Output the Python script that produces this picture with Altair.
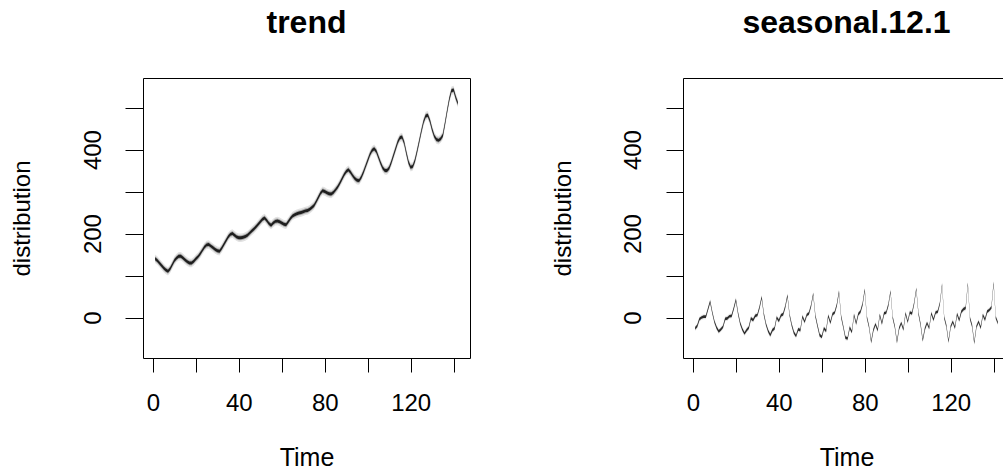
import altair as alt
import pandas as pd

# ---- data ----
time_index = list(range(1, 143))

trend = [
    140, 136, 130, 124, 118, 113, 110, 116, 126, 136, 142, 146,
    146, 142, 137, 133, 130, 130, 134, 140, 145, 152, 160, 168,
    173, 174, 170, 166, 162, 159, 158, 165, 174, 183, 192, 198,
    200, 196, 192, 190, 190, 191, 193, 196, 201, 206, 211, 216,
    222, 228, 234, 237, 231, 224, 220, 225, 229, 230, 228, 225,
    222, 221, 228, 236, 242, 245, 247, 249, 250, 252, 254, 255,
    258, 262, 267, 276, 286, 296, 302, 300, 297, 295, 294, 298,
    304, 311, 320, 330, 340, 348, 352, 346, 338, 331, 327, 326,
    334, 346, 360, 374, 388, 398, 402, 396, 382, 368, 356, 350,
    350, 356, 370, 386, 402, 418, 428, 430, 416, 392, 370, 358,
    360, 374, 396, 420, 444, 466, 480, 482, 468, 448, 432, 424,
    422, 426, 434, 462, 492, 520, 540, 542, 524, 510,
]

seasonal = [
    -26, -20, -4, 0, 2, 2, 20, 38, 12, -10, -24, -33,
    -28, -22, -3, -2, 3, 4, 22, 42, 10, -14, -28, -38,
    -30, -24, -2, -6, 4, 6, 24, 48, 8, -16, -32, -42,
    -30, -26, 0, -8, 5, 8, 26, 52, 6, -18, -36, -44,
    -28, -30, 2, -10, 6, 10, 28, 56, 4, -20, -42, -46,
    -26, -32, 4, -12, 8, 12, 30, 61, 2, -22, -48, -50,
    -24, -34, 6, -14, 8, 14, 32, 66, 0, -22, -58, -30,
    -16, -30, 6, -14, 10, 12, 30, 62, 0, -22, -58, -26,
    -13, -28, 10, -10, 12, 10, 34, 68, 10, -17, -54, -27,
    -13, -25, 10, -5, 12, 14, 34, 78, 0, -20, -57, -22,
    -10, -24, 8, -6, 14, 20, 23, 80, -2, -20, -60, -22,
    -10, -24, 6, -5, 14, 18, 24, 82, 0, -13,
]

x_ticks = [0, 20, 40, 60, 80, 100, 120, 140]
y_ticks = [0, 100, 200, 300, 400, 500]

df = pd.DataFrame({"t": time_index, "trend": trend, "seasonal": seasonal})

FONT = "Liberation Sans"
X_DOMAIN = [-4.64, 147.64]
Y_DOMAIN = [-96.4, 570.5]
W, H = 327, 280


def panel(field, title, bands, ytick, ylabpad, ytitlex):
    x_enc = alt.X(
        "t:Q",
        scale=alt.Scale(domain=X_DOMAIN, nice=False, zero=False),
        axis=alt.Axis(
            values=x_ticks,
            labelExpr="datum.value % 40 == 0 ? datum.label : ''",
            title="Time",
            domain=False, grid=False,
            tickSize=14, tickColor="black", tickWidth=1,
            labelFont=FONT, labelFontSize=24, labelColor="black",
            labelBaseline="alphabetic", labelAlign="center", labelPadding=38,
            labelFlush=False, labelOverlap=False,
            titleFont=FONT, titleFontSize=25, titleFontWeight="normal",
            titleColor="black", titleBaseline="alphabetic", titleY=107,
        ),
    )
    y_enc = alt.Y(
        "lo:Q",
        scale=alt.Scale(domain=Y_DOMAIN, nice=False, zero=False),
        axis=alt.Axis(
            values=y_ticks,
            labelExpr="datum.value % 200 == 0 ? datum.label : ''",
            title="distribution",
            domain=False, grid=False,
            tickSize=ytick, tickColor="black", tickWidth=1,
            labelFont=FONT, labelFontSize=24, labelColor="black",
            labelAngle=270, labelAlign="center", labelBaseline="alphabetic",
            labelPadding=ylabpad, labelFlush=False, labelOverlap=False,
            titleFont=FONT, titleFontSize=24, titleFontWeight="normal",
            titleColor="black", titleAngle=270, titleAlign="center",
            titleBaseline="alphabetic", titleX=ytitlex, titleY=H / 2,
        ),
    )
    layers = []
    for half, color in bands:
        layers.append(
            alt.Chart(df)
            .transform_calculate(
                lo=f"datum.{field} - {half}", hi=f"datum.{field} + {half}"
            )
            .mark_area(color=color, orient="vertical", clip=True)
            .encode(x=x_enc, y=y_enc, y2="hi:Q")
        )
    return alt.layer(*layers).properties(
        width=W,
        height=H,
        title=alt.TitleParams(
            text=title, font=FONT, fontSize=32, fontWeight="bold",
            color="black", anchor="middle", frame="group",
            baseline="alphabetic", offset=13,
        ),
    )


left = panel(
    "trend", "trend",
    [(10, "#e2e2e2"), (6, "#a8a8a8"), (3.5, "#1e1e1e")],
    18, 25, -114,
)
right = panel(
    "seasonal", "seasonal.12.1",
    [(6, "#e4e4e4"), (3.2, "#2a2a2a")],
    17, 26, -113,
)

chart = (
    alt.hconcat(left, right, spacing=213, bounds="flush")
    .properties(
        autosize=alt.AutoSizeParams(type="none"),
        padding={"left": 143, "top": 78, "right": 860, "bottom": 392},
        background="white",
    )
    .configure_view(stroke="black", strokeWidth=1)
)

chart.save("out.html", embed_options={"renderer": "svg", "actions": False})
